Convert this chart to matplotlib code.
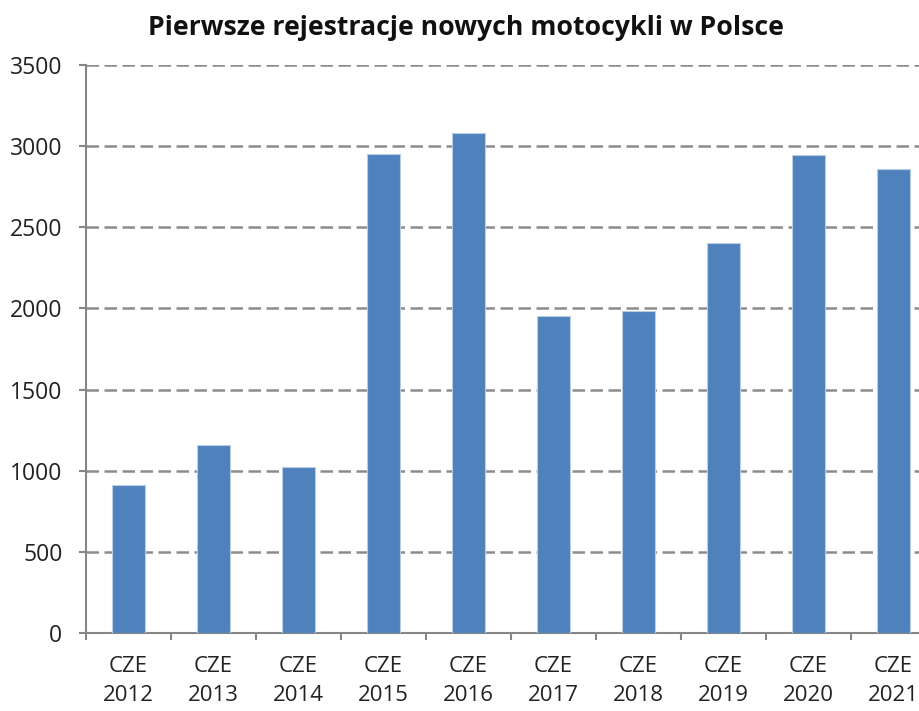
import numpy as np
import matplotlib
matplotlib.use("Agg")
import matplotlib.pyplot as plt

years = ["2012", "2013", "2014", "2015", "2016", "2017", "2018", "2019", "2020", "2021"]
values = [915, 1160, 1025, 2952, 3078, 1953, 1984, 2403, 2945, 2856]
labels = [f"CZE\n{y}" for y in years]

plt.rcParams["font.family"] = ["Open Sans", "DejaVu Sans"]

fig = plt.figure(figsize=(9.2, 7.11), dpi=100)
ax = fig.add_axes([86 / 920, 77.7 / 711, 850 / 920, 568.6 / 711])

x = np.arange(len(values))
ax.bar(x, values, width=0.39, color="#4F81BD", edgecolor="#B9CDE5", linewidth=0.8, zorder=3)

ax.set_xlim(-0.5, len(values) - 0.5)
ax.set_ylim(0, 3500)
ax.set_yticks(np.arange(0, 3501, 500))
ax.set_xticks(x)
ax.set_xticklabels(labels, fontsize=16, color="#222222", linespacing=1.5)
ax.set_xticks(np.arange(-0.5, len(values)), minor=True)
ax.tick_params(axis="x", which="major", length=0, pad=16)
ax.tick_params(axis="x", which="minor", length=5, width=1.5, color="#868686", direction="out")
ax.tick_params(axis="y", length=5, width=1.5, color="#868686", labelsize=16.5, labelcolor="#222222", pad=12)

ax.grid(axis="y", linestyle=(0, (5, 2.2)), linewidth=1.8, color="#8C8C8C", zorder=0)
for s in ["top", "right"]:
    ax.spines[s].set_visible(False)
for s in ["left", "bottom"]:
    ax.spines[s].set_color("#868686")
    ax.spines[s].set_linewidth(1.5)

fig.text(466 / 920, 1 - 28 / 711, "Pierwsze rejestracje nowych motocykli w Polsce",
         ha="center", va="center", fontsize=19.2, fontweight="bold", color="#111111")

fig.savefig("out.png", dpi=100, facecolor="white")
